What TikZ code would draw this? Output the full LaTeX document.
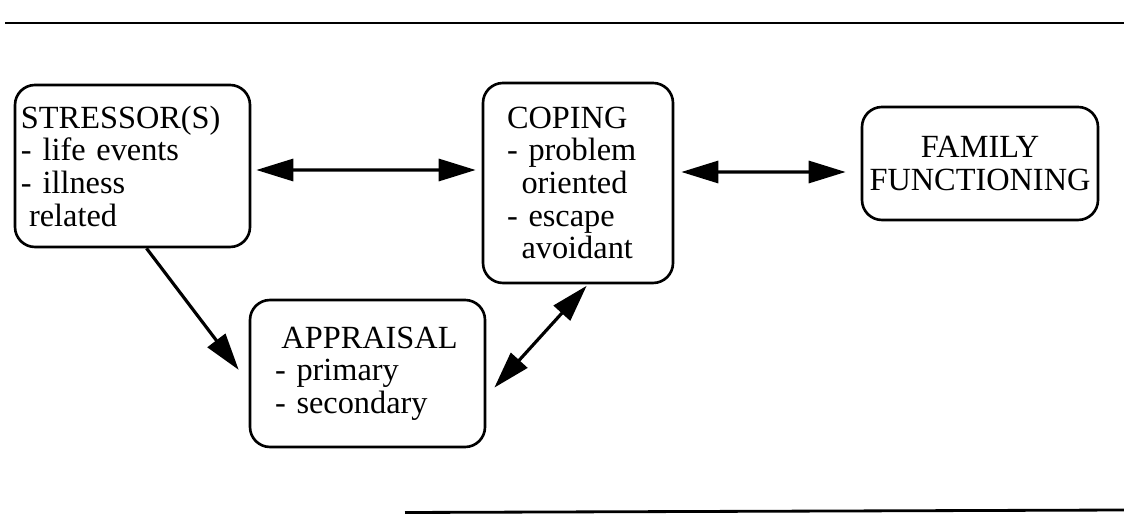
\documentclass[tikz,border=0pt]{standalone}
\usepackage{fontspec}
\setmainfont{Liberation Serif}
\usetikzlibrary{arrows.meta}
\hyphenpenalty=10000
\begin{document}
\begin{tikzpicture}[
        box/.style={draw, line width=1.5pt, rounded corners=0.4cm, inner sep=0pt,
            font=\fontsize{18.4}{18.6}\selectfont},
        twoway/.style={{Triangle[length=0.74cm,width=0.44cm]}-{Triangle[length=0.74cm,width=0.44cm]}, line width=1.8pt},
        oneway/.style={-{Triangle[length=0.74cm,width=0.44cm]}, line width=1.8pt}]
        \useasboundingbox (0,0) rectangle (22.48,10.3);
        \draw[line width=1.6pt] (0.1,9.84) -- (22.48,9.84);
        \draw[line width=1.6pt] (8.1,0.05) -- (22.48,0.1);

        \node[box, align=left, text width=4.46cm, minimum width=4.7cm, minimum height=3.24cm] (ST) at (2.65,6.98)
            {STRESSOR(S)\\- life events\\- illness\\\hspace*{0.25em}related};
        \node[box, align=left, text width=2.84cm, minimum width=3.8cm, minimum height=4cm] (CP) at (11.56,6.64)
            {COPING\\- problem\\\hspace*{0.45em}oriented\\- escape\\\hspace*{0.45em}avoidant};
        \node[box, align=center, minimum width=4.72cm, minimum height=2.26cm] (FF) at (19.6,7.03)
            {FAMILY\\FUNCTIONING};
        \node[box, align=left, text width=3.7cm, minimum width=4.7cm, minimum height=2.94cm] (AP) at (7.35,2.83)
            {\hspace*{0.2em}APPRAISAL\\- primary\\- secondary};

        \draw[twoway, shorten <=0.1cm, shorten >=0.12cm] ([yshift=-0.08cm]ST.east) -- ([yshift=0.26cm]CP.west);
        \draw[twoway, shorten <=0.14cm, shorten >=0.3cm] ([yshift=0.22cm]CP.east) -- ([yshift=-0.17cm]FF.west);
        \draw[oneway, shorten >=0.33cm] ([xshift=0.28cm]ST.south) -- ([yshift=-0.19cm]AP.west);
        \draw[twoway, shorten <=0.04cm, shorten >=0.24cm] ([xshift=0.2cm]CP.south) -- ([yshift=-0.46cm]AP.east);
    \end{tikzpicture}
\end{document}
